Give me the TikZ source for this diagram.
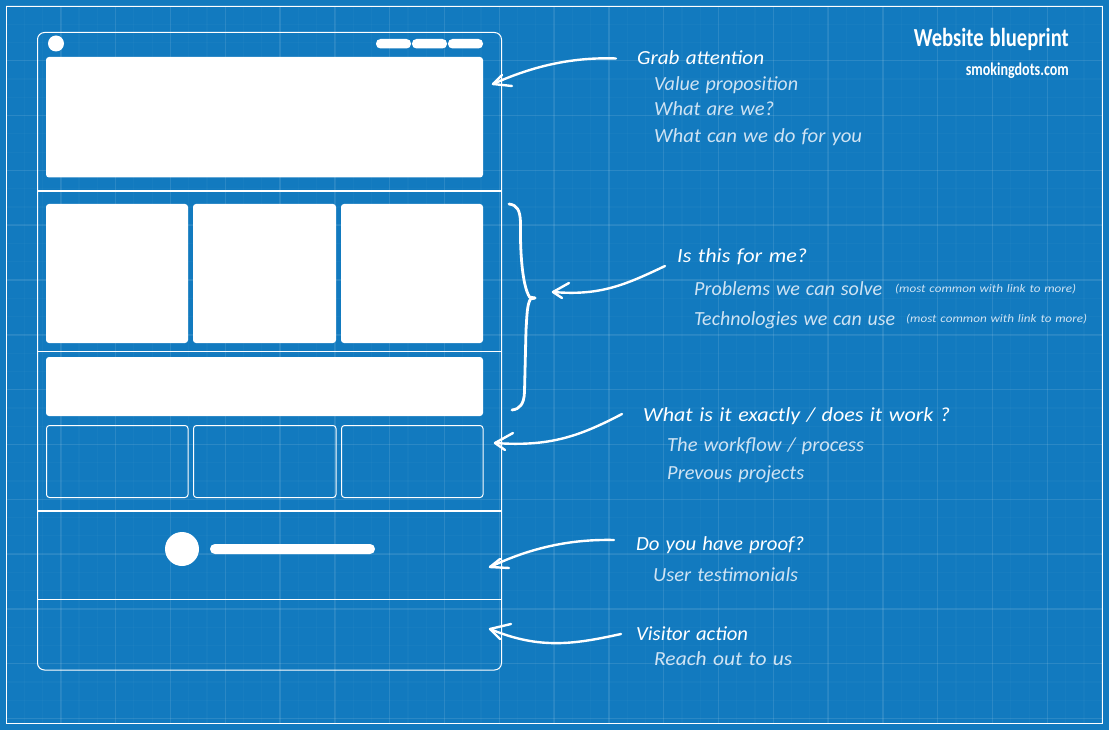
\documentclass[tikz,border=0pt]{standalone}
\usepackage{fontspec}
\setmainfont{Carlito}
\newfontfamily\hand[WordSpace=1.7]{Carlito}
\newfontfamily\titlefont[WordSpace=1.3]{Carlito}
\usetikzlibrary{calc}
\definecolor{bluebg}{HTML}{127ABF}
\definecolor{subtext}{HTML}{CFE3F3}
\newcommand{\fitw}[2]{\resizebox{#1pt}{\height}{#2}}
\tikzset{
  minorgrid/.style={white,opacity=.025,line width=1.2pt},
  majorgrid/.style={white,opacity=.085,line width=1.4pt},
  filled/.style={fill=white,draw=none,rounded corners=3pt},
  outline/.style={draw=white,line width=1pt,rounded corners=3pt},
  rule/.style={draw=white,line width=1pt},
  rulethick/.style={draw=white,line width=2pt},
  sketch/.style={draw=white,line width=2.4pt,line cap=round,line join=round},
  head/.style={anchor=base west,white,inner sep=0pt,font=\hand\itshape\fontsize{20}{20}\selectfont},
  sub/.style={anchor=base west,subtext,inner sep=0pt,font=\hand\itshape\fontsize{20}{20}\selectfont},
  small/.style={anchor=base west,subtext,inner sep=0pt,font=\hand\itshape\fontsize{11.5}{12}\selectfont},
}
\begin{document}
\begin{tikzpicture}[x=1pt,y=-1pt]
\useasboundingbox (0,0) rectangle (1109,730);
\fill[bluebg] (0,0) rectangle (1109,730);
% blueprint grid
\begin{scope}
\clip (6,6) rectangle (1103,724);
\foreach \k in {0,...,60} {
  \draw[minorgrid] ({6+18.27*\k},6) -- ({6+18.27*\k},724);
  \draw[minorgrid] (6,{6+18.27*\k}) -- (1103,{6+18.27*\k});
}
\foreach \k in {0,...,20} {
  \draw[majorgrid] ({6+54.8*\k},6) -- ({6+54.8*\k},724);
  \draw[majorgrid] (6,{6+54.8*\k}) -- (1103,{6+54.8*\k});
}
\end{scope}
\draw[white,line width=1pt] (6.5,6.5) rectangle (1102.5,723.5);

% page wireframe
\draw[outline,rounded corners=7pt] (37.5,32.5) rectangle (501.5,670);
\node[circle,fill=white,inner sep=0pt,minimum size=16pt] (logo) at (56,43.5) {};
\foreach \n/\a/\b in {m1/376/411,m2/412/447,m3/448/483}
  \fill[white,rounded corners=4.5pt] (\a,39) rectangle (\b,48.5);
\fill[filled] (46,57) rectangle (483,177.5);
\draw[rulethick] (37.5,191) -- (501.5,191);
\fill[filled] (46,204) rectangle (188,343);
\fill[filled] (193,204) rectangle (336,343);
\fill[filled] (341,204) rectangle (483,343);
\draw[rule] (37.5,351.5) -- (501.5,351.5);
\fill[filled] (46,357) rectangle (483,416);
\draw[outline] (46.5,425.5) rectangle (188,497.5);
\draw[outline] (193.5,425.5) rectangle (336,497.5);
\draw[outline] (341.5,425.5) rectangle (483,497.5);
\draw[rulethick] (37.5,511) -- (501.5,511);
\node[circle,fill=white,inner sep=0pt,minimum size=34pt] (avatar) at (182,549) {};
\fill[white,rounded corners=4.9pt] (210,544) rectangle (375,554);
\draw[rule] (37.5,599.5) -- (501.5,599.5);

% title
\node[anchor=base east,white,inner sep=0pt,font=\titlefont\bfseries\fontsize{26}{26}\selectfont] (title) at (1069,47) {\fitw{155}{Website blueprint}};
\node[anchor=base east,white,inner sep=0pt,font=\titlefont\bfseries\fontsize{18}{18}\selectfont] (site) at (1069,76) {\fitw{103}{smokingdots.com}};

% annotations
\node[head] (t1) at (637,65) {\fitw{127}{Grab attention}};
\node[sub] (t1a) at (654,91) {\fitw{144}{Value proposition}};
\node[sub] (t1b) at (654,116) {\fitw{120}{What are we?}};
\node[sub] (t1c) at (654,143) {\fitw{208}{What can we do for you}};
\node[head] (t2) at (677,262) {\fitw{130}{Is this for me?}};
\node[sub] (t2a) at (694,295) {\fitw{188}{Problems we can solve}};
\node[small] (t2an) at (895,292.5) {\fitw{181}{(most common with link to more)}};
\node[sub] (t2b) at (694,325) {\fitw{201}{Technologies we can use}};
\node[small] (t2bn) at (906,322.5) {\fitw{181}{(most common with link to more)}};
\node[head] (t3) at (643,421) {\fitw{307}{What is it exactly / does it work ?}};
\node[sub] (t3a) at (667,451) {\fitw{197}{The workflow / process}};
\node[sub] (t3b) at (667,479) {\fitw{137}{Prevous projects}};
\node[head] (t4) at (636,550) {\fitw{168}{Do you have proof?}};
\node[sub] (t4a) at (653,581) {\fitw{145}{User testimonials}};
\node[head] (t5) at (636,640) {\fitw{112}{Visitor action}};
\node[sub] (t5a) at (654,665) {\fitw{138}{Reach out to us}};

% hand drawn arrows
\coordinate (a1s) at (616,58.5);
\coordinate (a1e) at (493,84);
\coordinate (a1u) at (502,75);
\coordinate (a1d) at (512,86);
\draw[sketch] (a1s) .. controls (575,57) and (535,65) .. (a1e);
\draw[sketch] (a1u) -- (a1e) -- (a1d);

\coordinate (a2s) at (665,266);
\coordinate (a2e) at (553,292);
\coordinate (a2u) at (569,283);
\coordinate (a2d) at (562,298);
\draw[sketch] (a2s) .. controls (625,285) and (600,296) .. (a2e);
\draw[sketch] (a2u) -- (a2e) -- (a2d);

\coordinate (a3s) at (622,414);
\coordinate (a3e) at (495,443);
\coordinate (a3u) at (513,433);
\coordinate (a3d) at (505,450);
\draw[sketch] (a3s) .. controls (580,436) and (550,447) .. (a3e);
\draw[sketch] (a3u) -- (a3e) -- (a3d);

\coordinate (a4s) at (614,540);
\coordinate (a4e) at (490,567);
\coordinate (a4u) at (500,559);
\coordinate (a4d) at (509,568);
\draw[sketch] (a4s) .. controls (570,539) and (530,548) .. (a4e);
\draw[sketch] (a4u) -- (a4e) -- (a4d);

\coordinate (a5s) at (621,634);
\coordinate (a5e) at (490,629);
\coordinate (a5u) at (511,624);
\coordinate (a5d) at (500,639);
\draw[sketch] (a5s) .. controls (575,644) and (540,650) .. (a5e);
\draw[sketch] (a5u) -- (a5e) -- (a5d);

% brace
\coordinate (bt) at (509,204);
\coordinate (bm) at (535,298);
\coordinate (bb) at (512,410);
\draw[sketch,line width=2.8pt] (bt) .. controls (517,205) and (520,210) .. (520.5,222)
  .. controls (520,250) and (522,285) .. (529.5,297) -- (bm);
\draw[sketch,line width=2.8pt] (bm) -- (530.5,299) .. controls (527,305) and (527,315) .. (526,330)
  -- (524.5,392) .. controls (524,404) and (520,409) .. (bb);
\end{tikzpicture}
\end{document}
